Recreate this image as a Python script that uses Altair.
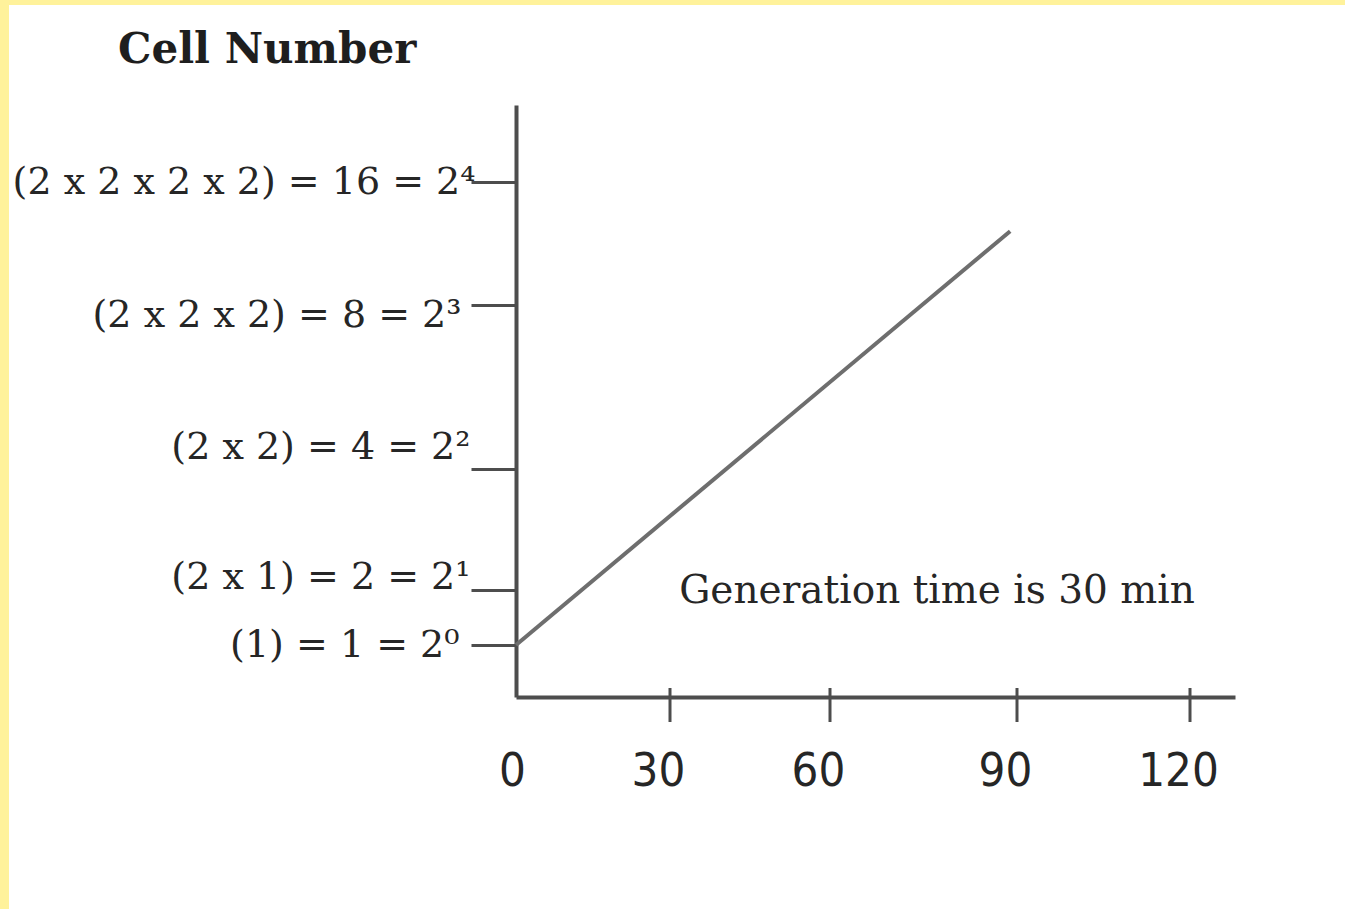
import altair as alt
import pandas as pd

# Time after the start of growth (minutes) marked on the horizontal axis
x_ticks = [0, 30, 60, 90, 120]
# Cell counts marked on the vertical axis and their labels
y_ticks = [1, 2, 4, 8, 16]
y_tick_labels = [
    "(1) = 1 = 2⁰",
    "(2 x 1) = 2 = 2¹",
    "(2 x 2) = 4 = 2²",
    "(2 x 2 x 2) = 8 = 2³",
    "(2 x 2 x 2 x 2) = 16 = 2⁴",
]

# Growth line: minutes vs. cell number
line_minutes = [0, 88.9]
line_cells = [1, 12.8]

title_text = "Cell Number"
note_text = "Generation time is 30 min"

# Hand-spaced axes: piecewise-linear scales (domain breakpoints -> pixels)
W, H = 719, 592
x_domain = [0, 30, 60, 90, 120, 128]
x_range = [0, 154, 314, 501, 674, W]
y_domain = [0, 1, 2, 4, 8, 16, 21]
y_range = [H, 540, 485, 364, 200, 77, 0]

x_scale = alt.Scale(domain=x_domain, range=x_range, zero=False, nice=False)
y_scale = alt.Scale(domain=y_domain, range=y_range, zero=False, nice=False)

AXIS_COLOR = "#4d4d4d"
TEXT_COLOR = "#262626"
SERIF = "DejaVu Serif"
NARROW = "Liberation Sans Narrow, DejaVu Sans Condensed, Liberation Sans"

label_expr = " : ".join(
    f"datum.value == {v} ? '{t}'" for v, t in zip(y_ticks, y_tick_labels)
) + " : ''"

line_df = pd.DataFrame({"minutes": line_minutes, "cells": line_cells})
tick_df = pd.DataFrame({"minutes": x_ticks[1:]})
one_row = pd.DataFrame({"k": [0]})

growth = alt.Chart(line_df).mark_line(color="#6e6e6e", strokeWidth=4).encode(
    x=alt.X(
        "minutes:Q",
        scale=x_scale,
        axis=alt.Axis(
            values=x_ticks,
            title=None,
            grid=False,
            ticks=False,
            tickSize=0,
            domainColor=AXIS_COLOR,
            domainWidth=4,
            labelFont=NARROW,
            labelFontSize=47,
            labelColor=TEXT_COLOR,
            labelPadding=51,
            labelOffset=alt.ExprRef(expr="datum.value == 0 ? -4 : -12"),
            labelFlush=False,
            labelOverlap=False,
            labelLimit=0,
        ),
    ),
    y=alt.Y(
        "cells:Q",
        scale=y_scale,
        axis=alt.Axis(
            values=y_ticks,
            title=None,
            grid=False,
            tickSize=45,
            tickWidth=3,
            tickColor=AXIS_COLOR,
            domainColor=AXIS_COLOR,
            domainWidth=4,
            labelExpr=label_expr,
            labelFont=SERIF,
            labelFontSize=38,
            labelColor=TEXT_COLOR,
            labelPadding=alt.ExprRef(
                expr="datum.value == 16 ? -4 : datum.value == 8 ? 10 : datum.value == 1 ? 12 : 1"
            ),
            labelOffset=alt.ExprRef(
                expr="datum.value == 4 ? -22 : datum.value == 2 ? -13 : datum.value == 8 ? 10 : 0"
            ),
            labelFlush=False,
            labelOverlap=False,
            labelLimit=0,
        ),
    ),
)

# Tick marks crossing the time axis
x_tick_marks = alt.Chart(tick_df).mark_rule(color=AXIS_COLOR, strokeWidth=3).encode(
    x=alt.X("minutes:Q", scale=x_scale),
    y=alt.value(H - 9),
    y2=alt.value(H + 25),
)

title_mark = alt.Chart(one_row).mark_text(
    text=title_text, font=SERIF, fontSize=42, fontWeight="bold",
    color="#1e1e1e", align="left", baseline="alphabetic",
).encode(x=alt.value(-398), y=alt.value(-42))

note_mark = alt.Chart(one_row).mark_text(
    text=note_text, font=SERIF, fontSize=39,
    color=TEXT_COLOR, align="center", baseline="alphabetic",
).encode(x=alt.value(421), y=alt.value(498))

# Pale yellow frame along the left and top edges
frame_left = alt.Chart(one_row).mark_rect(color="#fff29b").encode(
    x=alt.value(-516), x2=alt.value(-507), y=alt.value(-105), y2=alt.value(H + 212)
)
frame_top = alt.Chart(one_row).mark_rect(color="#fff29b").encode(
    x=alt.value(-516), x2=alt.value(W + 110), y=alt.value(-105), y2=alt.value(-100)
)

chart = alt.layer(
    frame_left, frame_top, growth, x_tick_marks, title_mark, note_mark
).properties(
    width=W,
    height=H,
    padding={"left": 516, "top": 105, "right": 110, "bottom": 212},
    autosize=alt.AutoSizeParams(type="none"),
    background="white",
).configure_view(stroke=None)

chart.save("out.html", embed_options={"renderer": "svg", "actions": False})
